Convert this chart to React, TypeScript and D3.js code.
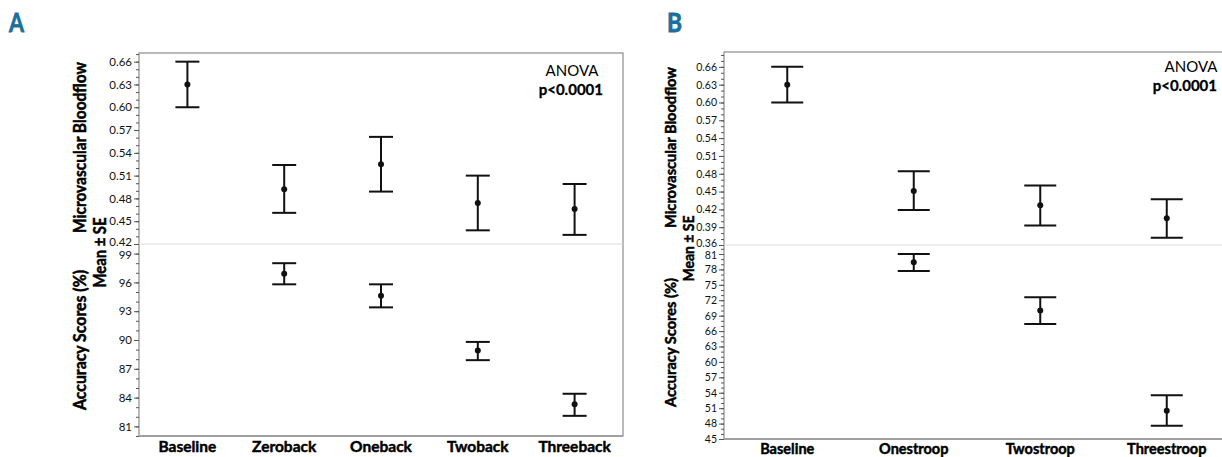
import React, { useEffect, useRef } from 'react';
import * as d3 from 'd3';

// Panel A – n-back tasks
const catsA = ['Baseline', 'Zeroback', 'Oneback', 'Twoback', 'Threeback'];
const flowMeanA = [0.630, 0.492, 0.525, 0.474, 0.466];
const flowLoA = [0.600, 0.461, 0.489, 0.438, 0.432];
const flowHiA = [0.660, 0.524, 0.561, 0.510, 0.499];
const accMeanA = [null, 96.9, 94.6, 88.9, 83.3];
const accLoA = [null, 95.8, 93.4, 87.9, 82.1];
const accHiA = [null, 98.0, 95.8, 89.8, 84.4];
const flowTicksA = [0.42, 0.45, 0.48, 0.51, 0.54, 0.57, 0.60, 0.63, 0.66];
const accTicksA = [81, 84, 87, 90, 93, 96, 99];

// Panel B – stroop tasks
const catsB = ['Baseline', 'Onestroop', 'Twostroop', 'Threestroop'];
const flowMeanB = [0.630, 0.451, 0.427, 0.405];
const flowLoB = [0.600, 0.419, 0.393, 0.372];
const flowHiB = [0.660, 0.484, 0.460, 0.437];
const accMeanB = [null, 79.4, 70.0, 50.5];
const accLoB = [null, 77.7, 67.4, 47.6];
const accHiB = [null, 81.0, 72.6, 53.5];
const flowTicksB = [0.36, 0.39, 0.42, 0.45, 0.48, 0.51, 0.54, 0.57, 0.60, 0.63, 0.66];
const accTicksB = [45, 48, 51, 54, 57, 60, 63, 66, 69, 72, 75, 78, 81];

const FONT = 'Lato, "Open Sans", sans-serif';

// bold text a bit heavier, like the original export
const heavy = (sel, w = 0.5, color = '#000') =>
  sel.style('font-weight', 'bold').attr('stroke', color).attr('stroke-width', w);

function drawPanel(svg, cfg) {
  const g = svg.append('g');

  // panel letter
  g.append('text')
    .attr('x', cfg.letterX).attr('y', 32)
    .style('font-family', FONT)
    .style('font-size', '27px').attr('fill', '#1b6f9c')
    .attr('textLength', 15).attr('lengthAdjust', 'spacingAndGlyphs')
    .text(cfg.letter)
    .call(heavy, 0.8, '#1b6f9c');

  const x = d3.scaleBand().domain(cfg.cats).range([cfg.left, cfg.right]);
  const yTop = d3.scaleLinear().domain(cfg.flowDomain).range([cfg.divider, cfg.top]);
  const yBot = d3.scaleLinear().domain(cfg.accDomain).range([cfg.bottom, cfg.divider]);

  // frame
  g.append('rect')
    .attr('x', cfg.left).attr('y', cfg.top)
    .attr('width', cfg.right - cfg.left).attr('height', cfg.bottom - cfg.top)
    .attr('fill', 'none').attr('stroke', '#8c8c8c').attr('stroke-width', 1.2);
  g.append('line')
    .attr('x1', cfg.left).attr('x2', cfg.right)
    .attr('y1', cfg.bottom).attr('y2', cfg.bottom)
    .attr('stroke', '#a0a0a0').attr('stroke-width', 2);
  g.append('line')
    .attr('x1', cfg.left).attr('x2', cfg.right)
    .attr('y1', cfg.divider).attr('y2', cfg.divider)
    .attr('stroke', '#dcdcdc').attr('stroke-width', 1);

  // axes
  const styleAxis = (sel) => {
    sel.select('.domain').remove();
    sel.selectAll('line').attr('stroke', '#555');
    sel.selectAll('text')
      .style('font-family', FONT).style('font-size', cfg.tickSize + 'px')
      .attr('fill', '#111');
  };
  const minorTop = d3.range(Math.ceil(cfg.flowDomain[0] * 100), Math.floor(cfg.flowDomain[1] * 100) + 1).map(v => v / 100);
  const minorBot = d3.range(Math.ceil(cfg.accDomain[0]), Math.floor(cfg.accDomain[1]) + 1);

  g.append('g').attr('transform', `translate(${cfg.left},0)`)
    .call(d3.axisLeft(yTop).tickValues(minorTop).tickSize(3).tickFormat(() => ''))
    .call(styleAxis);
  const topAxis = g.append('g').attr('transform', `translate(${cfg.left},0)`)
    .call(d3.axisLeft(yTop).tickValues(cfg.flowTicks).tickSize(5).tickPadding(2).tickFormat(d3.format('.2f')))
    .call(styleAxis);
  g.append('g').attr('transform', `translate(${cfg.left},0)`)
    .call(d3.axisLeft(yBot).tickValues(minorBot).tickSize(3).tickFormat(() => ''))
    .call(styleAxis);
  const botAxis = g.append('g').attr('transform', `translate(${cfg.left},0)`)
    .call(d3.axisLeft(yBot).tickValues(cfg.accTicks).tickSize(5).tickPadding(2).tickFormat(d3.format('d')))
    .call(styleAxis);
  // the two labels meeting at the divider sit tight together: nudge them apart a little
  topAxis.selectAll('.tick').filter(d => d === cfg.flowTicks[0]).select('text').attr('y', -2);
  botAxis.selectAll('.tick').filter(d => d === cfg.accTicks[cfg.accTicks.length - 1]).select('text').attr('y', 1.5);

  // x labels
  g.selectAll('.xlab').data(cfg.cats).enter().append('text')
    .attr('x', d => x(d) + x.bandwidth() / 2)
    .attr('y', cfg.xLabelY)
    .attr('text-anchor', 'middle')
    .style('font-family', FONT)
    .style('font-size', cfg.labelSize + 'px')
    .text(d => d)
    .call(heavy, 0.45);

  // y titles (squeezed to the condensed look of the original)
  const yTitle = (tx, ty, len, txt) => g.append('text')
    .attr('transform', `translate(${tx},${ty}) rotate(-90)`)
    .attr('text-anchor', 'middle').attr('dy', '0.35em')
    .attr('textLength', len).attr('lengthAdjust', 'spacingAndGlyphs')
    .style('font-family', FONT)
    .style('font-size', cfg.titleSize + 'px')
    .text(txt)
    .call(heavy, 0.5);
  yTitle(cfg.titleX, cfg.t1[0], cfg.t1[1], 'Microvascular Bloodflow');
  yTitle(cfg.titleX, cfg.t2[0], cfg.t2[1], 'Accuracy Scores (%)');
  yTitle(cfg.title2X, cfg.t3[0], cfg.t3[1], 'Mean ± SE');

  // error bars
  const drawBars = (means, lo, hi, y) => {
    cfg.cats.forEach((c, i) => {
      if (means[i] == null) return;
      const cx = x(c) + x.bandwidth() / 2;
      const eb = g.append('g').attr('stroke', '#111').attr('stroke-width', 2);
      eb.append('line').attr('x1', cx).attr('x2', cx).attr('y1', y(lo[i])).attr('y2', y(hi[i]));
      eb.append('line').attr('x1', cx - cfg.cap).attr('x2', cx + cfg.cap).attr('y1', y(lo[i])).attr('y2', y(lo[i]));
      eb.append('line').attr('x1', cx - cfg.cap).attr('x2', cx + cfg.cap).attr('y1', y(hi[i])).attr('y2', y(hi[i]));
      g.append('circle').attr('cx', cx).attr('cy', y(means[i])).attr('r', 3).attr('fill', '#111');
    });
  };
  drawBars(cfg.flowMean, cfg.flowLo, cfg.flowHi, yTop);
  drawBars(cfg.accMean, cfg.accLo, cfg.accHi, yBot);

  // ANOVA annotation
  g.append('text')
    .attr('x', cfg.anovaX).attr('y', cfg.anovaY)
    .attr('text-anchor', 'middle')
    .style('font-family', FONT).style('font-size', '15px')
    .text('ANOVA');
  g.append('text')
    .attr('x', cfg.pRight).attr('y', cfg.anovaY + 19)
    .attr('text-anchor', 'end')
    .style('font-family', FONT).style('font-size', '15px')
    .text('p<0.0001')
    .call(heavy, 0.3);
}

const App = () => {
  const ref = useRef(null);

  useEffect(() => {
    const svg = d3.select(ref.current);
    svg.selectAll('*').remove();

    drawPanel(svg, {
      letter: 'A', letterX: 9,
      cats: catsA,
      left: 139, right: 623, top: 53, divider: 244, bottom: 436,
      flowDomain: [0.42, 0.6714], accDomain: [80, 100],
      flowTicks: flowTicksA, accTicks: accTicksA,
      flowMean: flowMeanA, flowLo: flowLoA, flowHi: flowHiA,
      accMean: accMeanA, accLo: accLoA, accHi: accHiA,
      tickSize: 11.5, labelSize: 15.5, titleSize: 16.5, cap: 12,
      titleX: 80, title2X: 100, xLabelY: 452,
      t1: [147.5, 171], t2: [340, 140], t3: [252.5, 70],
      anovaX: 572, anovaY: 76, pRight: 603,
    });

    drawPanel(svg, {
      letter: 'B', letterX: 667,
      cats: catsB,
      left: 724, right: 1230, top: 52, divider: 245, bottom: 439,
      flowDomain: [0.36, 0.685], accDomain: [45, 82.75],
      flowTicks: flowTicksB, accTicks: accTicksB,
      flowMean: flowMeanB, flowLo: flowLoB, flowHi: flowHiB,
      accMean: accMeanB, accLo: accLoB, accHi: accHiB,
      tickSize: 10.5, labelSize: 14.5, titleSize: 15.5, cap: 16,
      titleX: 671, title2X: 689, xLabelY: 454,
      t1: [147.5, 161], t2: [342.5, 129], t3: [248.5, 66],
      anovaX: 1191, anovaY: 72, pRight: 1217,
    });
  }, []);

  return (
    <div style={{ position: 'absolute', left: 0, top: 0, width: 1222, height: 457, overflow: 'hidden', background: '#fff' }}>
      <svg ref={ref} width={1222} height={457} />
    </div>
  );
};

export default App;
